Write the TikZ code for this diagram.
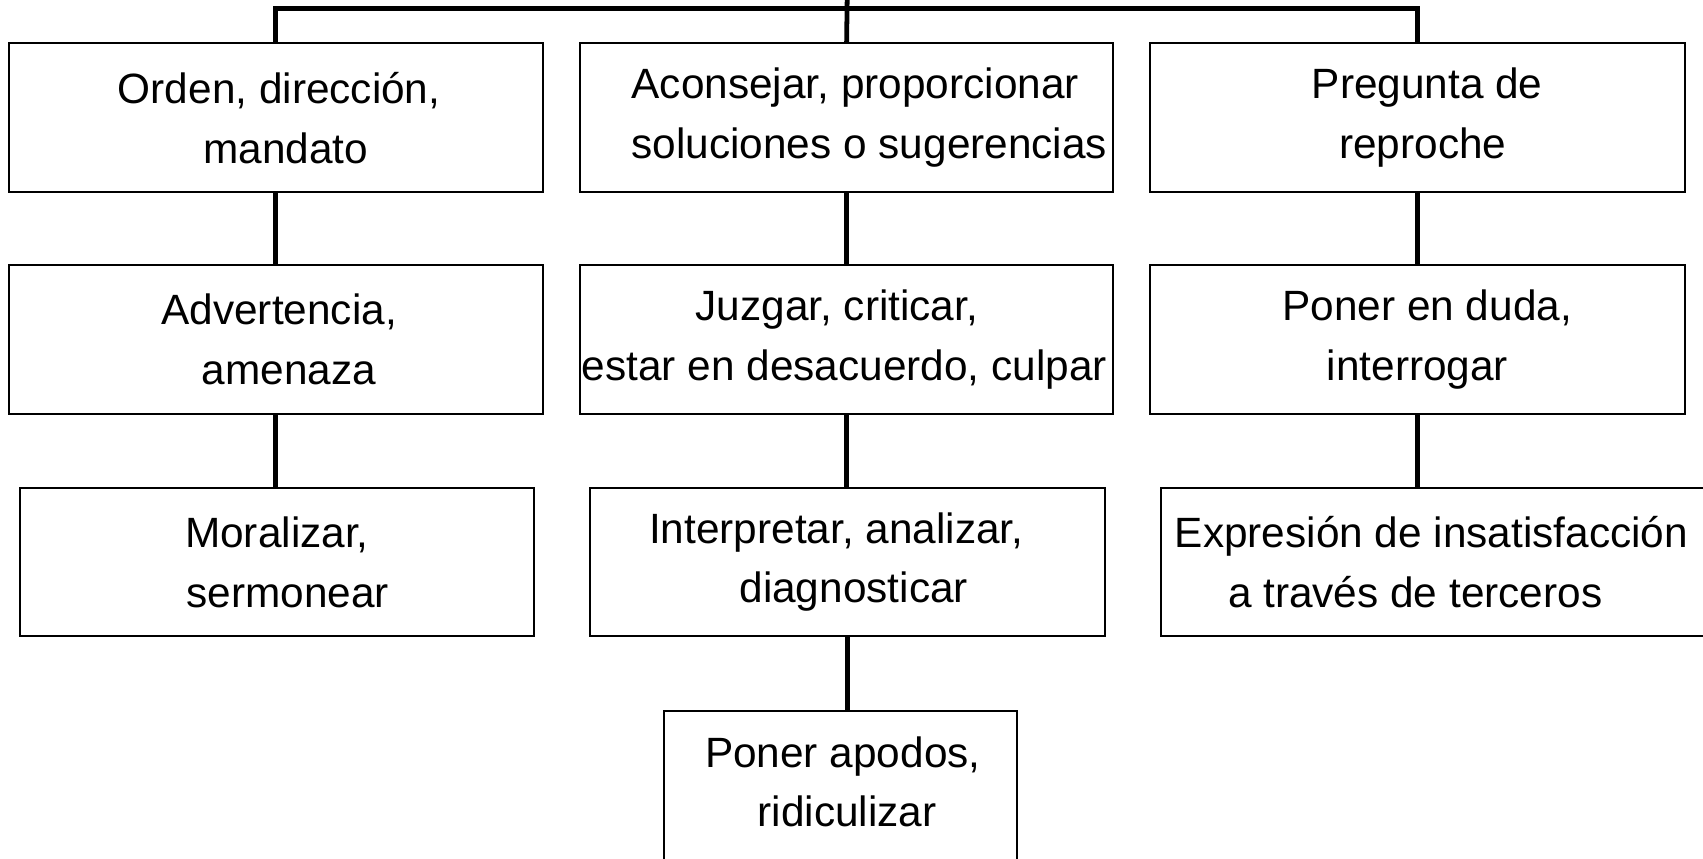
\documentclass[tikz,border=0pt]{standalone}
\usepackage{fontspec}
\setmainfont{Liberation Sans}
\newcommand\shl[2]{\hspace*{#1}#2\hspace*{-#1}}
\begin{document}
\begin{tikzpicture}[x=0.5pt,y=-0.5pt,
  box/.style={draw=black,line width=0.95pt,rectangle,inner sep=0pt,align=center,
    font=\fontsize{19.5pt}{27.5pt}\selectfont,minimum height=68.5pt},
  lbl/.style={font=\fontsize{19.5pt}{27.5pt}\selectfont,align=center,inner sep=0pt},
  link/.style={draw=black,line width=2.2pt}]
\useasboundingbox (0,0) rectangle (1568,790);
% row 1
\node[box,minimum width=246pt] (a1) at (254,108.5) {\shl{1.5pt}{Orden, dirección,}\\ \shl{4.5pt}{mandato}};
\node[box,minimum width=245.5pt] (b1) at (779.5,108.5) {\shl{4pt}{Aconsejar, proporcionar}\\ \shl{10.5pt}{soluciones o sugerencias}};
\node[box,minimum width=246pt] (c1) at (1305,108.5) {\shl{4.5pt}{Pregunta de}\\ \shl{2.5pt}{reproche}};
% row 2
\node[box,minimum width=246pt] (a2) at (254,312.5) {\shl{1.5pt}{Advertencia,}\\ \shl{6pt}{amenaza}};
\node[box,minimum width=245.5pt] (b2) at (779.5,312.5) {\shl{-4.5pt}{Juzgar, criticar,}\\ \shl{-1pt}{estar en desacuerdo, culpar}};
\node[box,minimum width=246pt] (c2) at (1305,312.5) {\shl{4.5pt}{Poner en duda,}\\ interrogar};
% row 3
\node[box,minimum width=237pt] (a3) at (255,517.5) {Moralizar,\\ \shl{5pt}{sermonear}};
\node[box,minimum width=237pt] (b3) at (780,517.5) {\shl{-5pt}{Interpretar, analizar,}\\ \shl{3pt}{diagnosticar}};
\node[box,minimum width=270pt] (c3) at (1339,517.5) {};
\node[lbl] (c3t) at (1316,517.5) {\shl{1pt}{Expresión de insatisfacción}\\ \shl{-6.5pt}{a través de terceros}};
% row 4
\node[box,minimum width=162.5pt,minimum height=80pt] (b4) at (773.5,735) {};
\node[lbl] (b4t) at (776,720) {Poner apodos,\\ \shl{2pt}{ridiculizar}};
% connectors
\coordinate (topend) at (780,0);
\coordinate (hub) at (780,8);
\draw[link] (topend) -- (b1.north);
\draw[link] (a1.north) |- (hub) -| (c1.north);
\draw[link] (a1) -- (a2);
\draw[link] (b1) -- (b2);
\draw[link] (c1) -- (c2);
\draw[link] (a2.south) -- (a2.south |- a3.north);
\draw[link] (b2.south) -- (b2.south |- b3.north);
\draw[link] (c2.south) -- (c2.south |- c3.north);
\draw[link] (b3.south) -- (b3.south |- b4.north);
\end{tikzpicture}
\end{document}
